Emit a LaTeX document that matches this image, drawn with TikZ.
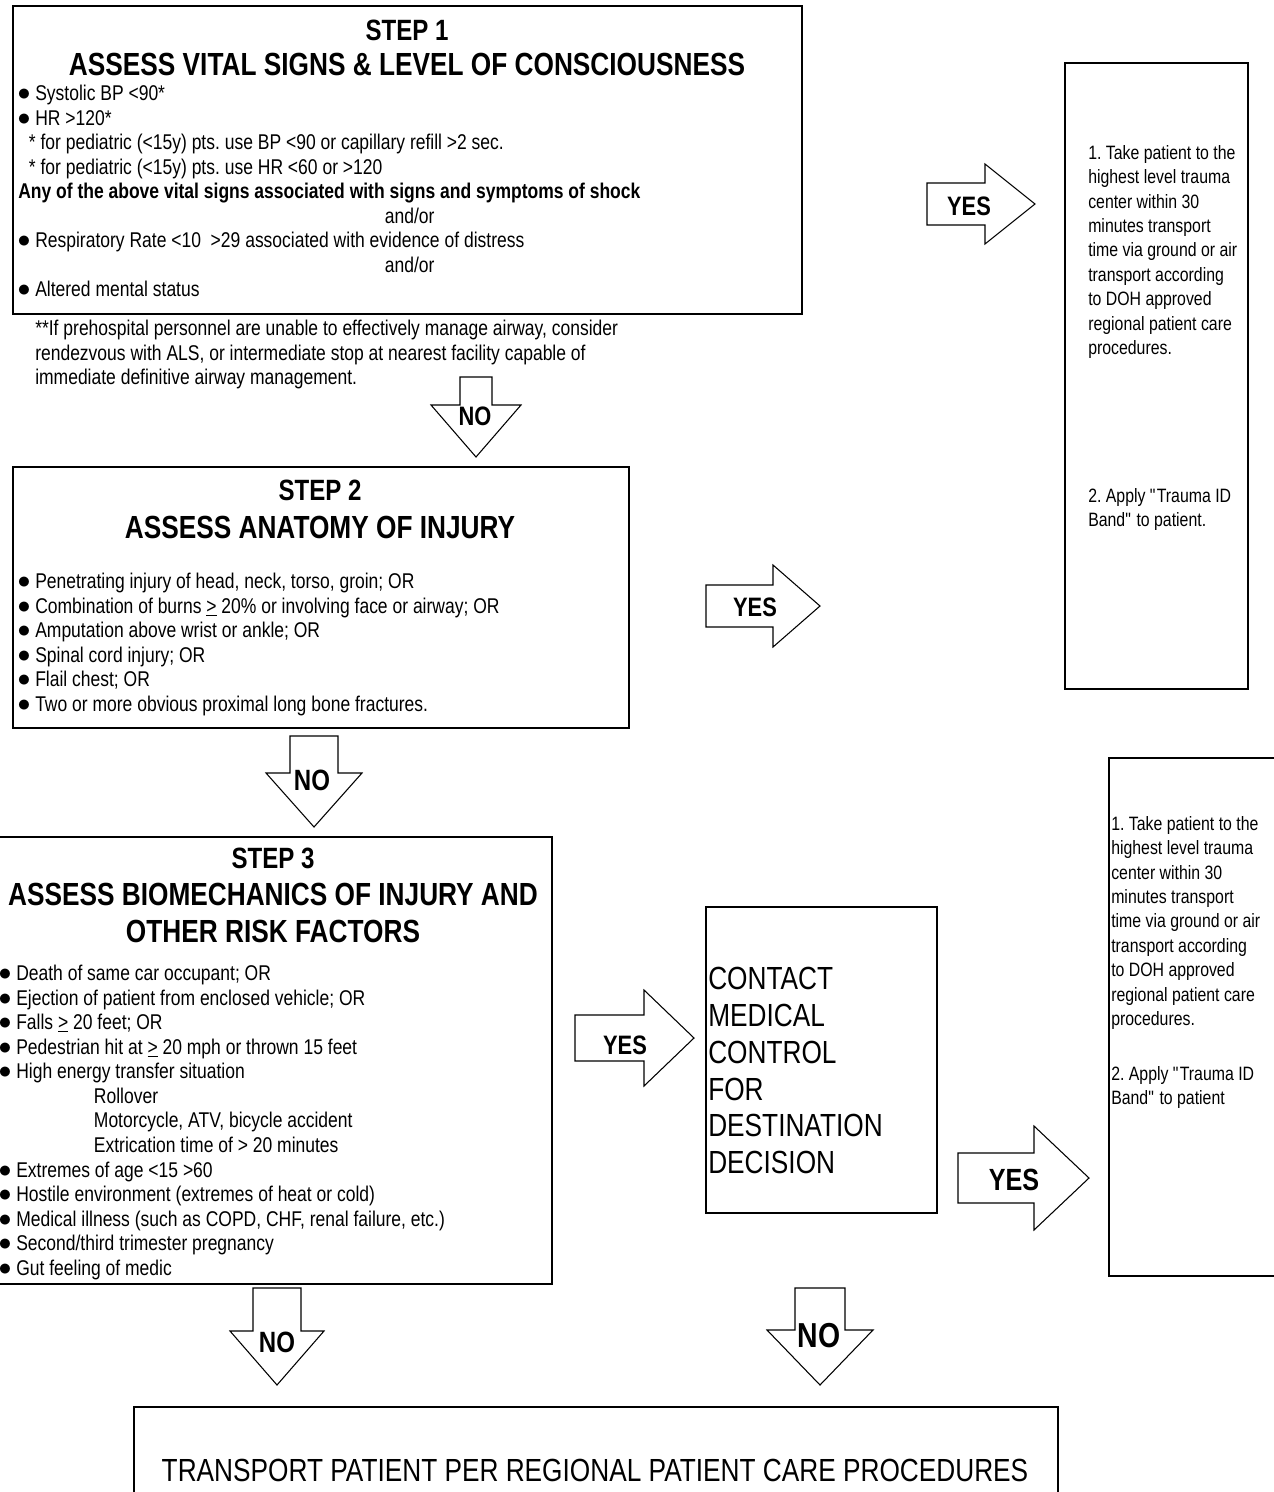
\documentclass[tikz,border=0pt]{standalone}
\usepackage{fontspec}
\setmainfont{Liberation Sans}[FakeStretch=0.82]
\usepackage{tikz}
\frenchspacing

\newcommand{\itm}{\makebox[12.75pt][l]{\hspace*{-0.5pt}\scalebox{1.12}{$\bullet$}}}
% right block arrow: name, tail x, mid y, shaft half, head x, head half, tip x
\newcommand{\yesblock}[7]{%
  \coordinate (#1) at (#7,#3);
  \draw[blockarrow] (#2,#3-#4) -- (#5,#3-#4) -- (#5,#3-#6) -- (#1)
    -- (#5,#3+#6) -- (#5,#3+#4) -- (#2,#3+#4) -- cycle;}
% down block arrow: name, mid x, top y, shaft half, head y, head half, tip y
\newcommand{\noblock}[7]{%
  \coordinate (#1) at (#2,#7);
  \draw[blockarrow] (#2-#4,#3) -- (#2+#4,#3) -- (#2+#4,#5) -- (#2+#6,#5) -- (#1)
    -- (#2-#6,#5) -- (#2-#4,#5) -- cycle;}

\tikzset{
  box/.style={draw, line width=1.5pt, anchor=north west, inner sep=0pt},
  blockarrow/.style={draw, line width=0.8pt, line join=miter},
  body/.style={anchor=north west, align=left, inner sep=0pt, font={\fontsize{16}{18.4}\selectfont}},
  side/.style={anchor=north west, align=left, inner sep=0pt, font={\fontsize{14.5}{18.3}\selectfont}},
  big/.style={anchor=north west, align=left, inner sep=0pt, font={\fontsize{24}{27.6}\selectfont}},
  steptitle/.style={inner sep=0pt, font={\fontsize{22}{26}\bfseries\selectfont}},
  heading/.style={inner sep=0pt, align=center, font={\fontsize{24}{27.75}\bfseries\selectfont}},
  arrowtext/.style={inner sep=0pt, font={\fontsize{#1}{#1}\bfseries\selectfont}}
}

\begin{document}
\begin{tikzpicture}[x=0.75pt, y=-0.75pt]
\useasboundingbox[fill=white] (0,0) rectangle (1274,1492);

% step 1
\node[box, minimum width=591.75pt, minimum height=231pt] (step1) at (12,5) {};
\node[steptitle] (s1title) at (407,30) {STEP 1};
\node[heading] (s1head) at (407,64) {ASSESS VITAL SIGNS \& LEVEL OF CONSCIOUSNESS};
\node[body] (s1list) at (18,85) {\itm Systolic BP <90*\\
\itm HR >120*\\
\hspace*{8pt}* for pediatric (<15y) pts. use BP <90 or capillary refill >2 sec.\\
\hspace*{8pt}* for pediatric (<15y) pts. use HR <60 or >120\\
\textbf{Any of the above vital signs associated with signs and symptoms of shock}\\
\hspace*{275pt}and/or\\
\itm Respiratory Rate <10\ \ >29 associated with evidence of distress\\
\hspace*{275pt}and/or\\
\itm Altered mental status};
\node[body] (s1note) at (35,320) {**If prehospital personnel are unable to effectively manage airway, consider\\
rendezvous with ALS, or intermediate stop at nearest facility capable of\\
immediate definitive airway management.};

% step 2
\node[box, minimum width=462pt, minimum height=195.75pt] (step2) at (12,466) {};
\node[steptitle] (s2title) at (320,490) {STEP 2};
\node[heading] (s2head) at (320,527) {ASSESS ANATOMY OF INJURY};
\node[body] (s2list) at (18,573) {\itm Penetrating injury of head, neck, torso, groin; OR\\
\itm Combination of burns \underline{>} 20\% or involving face or airway; OR\\
\itm Amputation above wrist or ankle; OR\\
\itm Spinal cord injury; OR\\
\itm Flail chest; OR\\
\itm Two or more obvious proximal long bone fractures.};

% step 3
\node[box, minimum width=417.75pt, minimum height=335.25pt] (step3) at (-6,836) {};
\node[steptitle] (s3title) at (273,858) {STEP 3};
\node[heading] (s3head) at (273,913) {ASSESS BIOMECHANICS OF INJURY AND\\OTHER RISK FACTORS};
\node[body] (s3list) at (-1,965) {\itm Death of same car occupant; OR\\
\itm Ejection of patient from enclosed vehicle; OR\\
\itm Falls \underline{>} 20 feet; OR\\
\itm Pedestrian hit at \underline{>} 20 mph or thrown 15 feet\\
\itm High energy transfer situation\\
\hspace*{71pt}Rollover\\
\hspace*{71pt}Motorcycle, ATV, bicycle accident\\
\hspace*{71pt}Extrication time of > 20 minutes\\
\itm Extremes of age <15 >60\\
\itm Hostile environment (extremes of heat or cold)\\
\itm Medical illness (such as COPD, CHF, renal failure, etc.)\\
\itm Second/third trimester pregnancy\\
\itm Gut feeling of medic};

% destination boxes
\node[box, minimum width=137.25pt, minimum height=469.5pt] (dest1) at (1064,62) {};
\node[side] (d1first) at (1088,145) {1. Take patient to the\\highest level trauma\\center within 30\\minutes transport\\time via ground or air\\transport according\\to DOH approved\\regional patient care\\procedures.};
\node[side] (d1second) at (1088,488) {2. Apply \textquotedbl Trauma ID\\Band\textquotedbl{} to patient.};

\node[box, minimum width=136.5pt, minimum height=388.5pt] (dest2) at (1108,757) {};
\node[side] (d2first) at (1111,816) {1. Take patient to the\\highest level trauma\\center within 30\\minutes transport\\time via ground or air\\transport according\\to DOH approved\\regional patient care\\procedures.};
\node[side] (d2second) at (1111,1066) {2. Apply \textquotedbl Trauma ID\\Band\textquotedbl{} to patient};

\node[box, minimum width=173.25pt, minimum height=229.5pt] (medctrl) at (705,906) {};
\node[big] (medtext) at (708,967) {CONTACT\\MEDICAL\\CONTROL\\FOR\\DESTINATION\\DECISION};

\node[box, minimum width=693pt, minimum height=85.5pt] (regional) at (133,1406) {};
\node[inner sep=0pt, font={\fontsize{24}{27.6}\selectfont}] (regtext) at (595,1470) {TRANSPORT PATIENT PER REGIONAL PATIENT CARE PROCEDURES};

% yes arrows
\yesblock{yes1tip}{927}{204}{21}{985}{40}{1035}
\node[arrowtext=20] (yes1) at (969,206) {YES};
\yesblock{yes2tip}{706}{606}{21}{773}{41}{820}
\node[arrowtext=20] (yes2) at (755,607) {YES};
\yesblock{yes3tip}{575}{1038}{23}{644}{48}{694}
\node[arrowtext=20] (yes3) at (625,1045) {YES};
\yesblock{yes4tip}{958}{1178}{25}{1034}{52}{1089}
\node[arrowtext=23] (yes4) at (1014,1180) {YES};

% no arrows
\noblock{no1tip}{476}{377}{16}{405}{45}{457}
\node[arrowtext=20] (no1) at (475,416) {NO};
\noblock{no2tip}{314}{736}{24}{773}{48}{827}
\node[arrowtext=22] (no2) at (312,780) {NO};
\noblock{no3tip}{277}{1288}{24}{1331}{47}{1385}
\node[arrowtext=22] (no3) at (277,1342) {NO};
\noblock{no4tip}{820}{1288}{25}{1330}{53}{1385}
\node[arrowtext=26] (no4) at (819,1336) {NO};
\end{tikzpicture}
\end{document}
